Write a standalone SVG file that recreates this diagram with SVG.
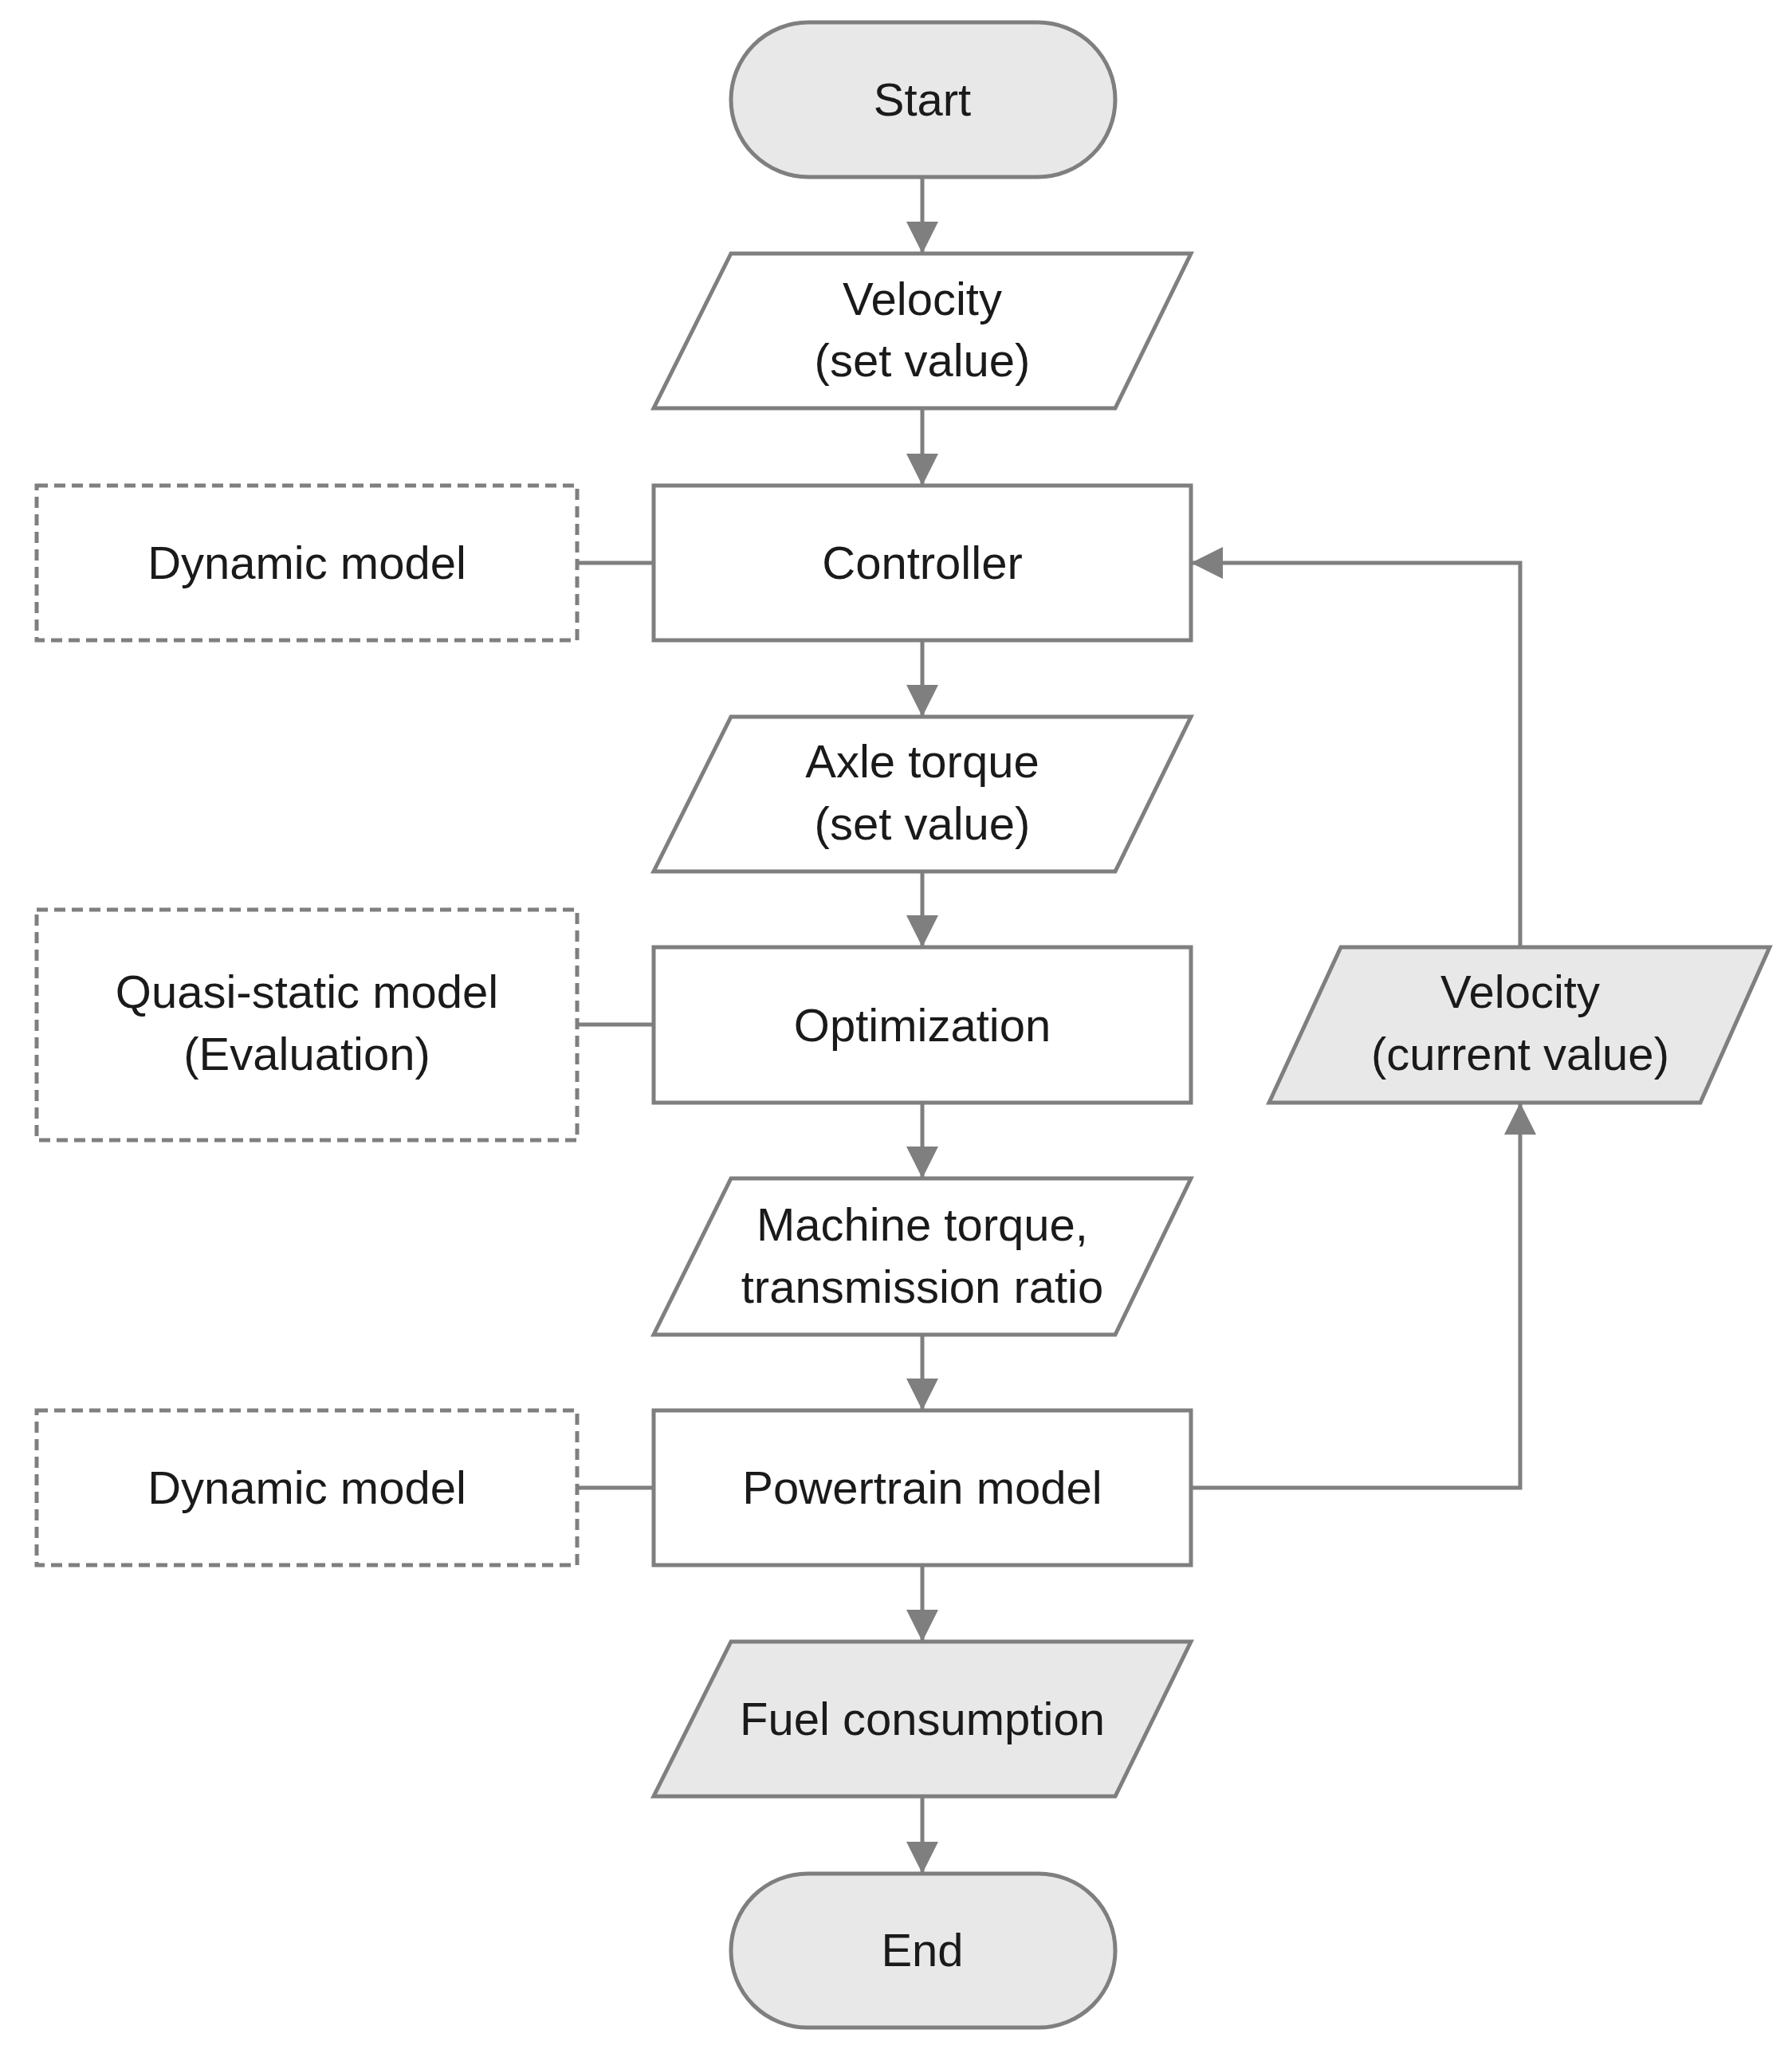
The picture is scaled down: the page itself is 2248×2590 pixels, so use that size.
<svg xmlns="http://www.w3.org/2000/svg" width="2248" height="2590" viewBox="0 0 2248 2590">
<style>
.s{stroke:#7f7f7f;stroke-width:5;fill:#fff}
.g{fill:#e8e8e8}
.d{stroke:#7f7f7f;stroke-width:5;fill:#fff;stroke-dasharray:14 8}
.c{stroke:#7f7f7f;stroke-width:5;fill:none}
text{font-family:"Liberation Sans",Arial,sans-serif;font-size:58px;fill:#1a1a1a;text-anchor:middle}
</style>
<defs><marker id="a" markerWidth="10" markerHeight="10" refX="9" refY="5" orient="auto" markerUnits="userSpaceOnUse" viewBox="0 0 10 10"><path d="M0,0L10,5L0,10z" fill="#7f7f7f"/></marker>
<marker id="ar" viewBox="0 0 10 10" refX="10" refY="5" markerWidth="40" markerHeight="40" markerUnits="userSpaceOnUse" orient="auto"><path d="M0,0L10,5L0,10z" fill="#7f7f7f"/></marker></defs>
<rect width="2248" height="2590" fill="#fff"/>
<g id="connectors">
<path class="c" d="M1157 222V318" marker-end="url(#ar)"/>
<path class="c" d="M1157 512V609" marker-end="url(#ar)"/>
<path class="c" d="M1157 803V899" marker-end="url(#ar)"/>
<path class="c" d="M1157 1093V1188" marker-end="url(#ar)"/>
<path class="c" d="M1157 1383V1478" marker-end="url(#ar)"/>
<path class="c" d="M1157 1674V1769" marker-end="url(#ar)"/>
<path class="c" d="M1157 1963V2059" marker-end="url(#ar)"/>
<path class="c" d="M1157 2253V2350" marker-end="url(#ar)"/>
<path class="c" d="M1494 1866H1907V1383" marker-end="url(#ar)"/>
<path class="c" d="M1907 1188V706H1494" marker-end="url(#ar)"/>
<path class="c" d="M724 706H820M724 1285H820M724 1866H820"/>
</g>
<g id="start"><rect class="s g" x="917" y="28" width="482" height="194" rx="97"/><text x="1157" y="145">Start</text></g>
<g id="vset"><polygon class="s" points="917,318 1494,318 1399,512 820,512"/><text x="1157" y="395">Velocity</text><text x="1157" y="472">(set value)</text></g>
<g id="controller"><rect class="s" x="820" y="609" width="674" height="194"/><text x="1157" y="726">Controller</text></g>
<g id="dyn1"><rect class="d" x="46" y="609" width="678" height="194"/><text x="385" y="726">Dynamic model</text></g>
<g id="axle"><polygon class="s" points="917,899 1494,899 1399,1093 820,1093"/><text x="1157" y="975">Axle torque</text><text x="1157" y="1053">(set value)</text></g>
<g id="opt"><rect class="s" x="820" y="1188" width="674" height="195"/><text x="1157" y="1306">Optimization</text></g>
<g id="quasi"><rect class="d" x="46" y="1141" width="678" height="289"/><text x="385" y="1264">Quasi-static model</text><text x="385" y="1342">(Evaluation)</text></g>
<g id="machine"><polygon class="s" points="917,1478 1494,1478 1399,1674 820,1674"/><text x="1157" y="1556">Machine torque,</text><text x="1157" y="1634">transmission ratio</text></g>
<g id="power"><rect class="s" x="820" y="1769" width="674" height="194"/><text x="1157" y="1886">Powertrain model</text></g>
<g id="dyn2"><rect class="d" x="46" y="1769" width="678" height="194"/><text x="385" y="1886">Dynamic model</text></g>
<g id="vcur"><polygon class="s g" points="1682,1188 2220,1188 2133,1383 1592,1383" /><text x="1907" y="1264">Velocity</text><text x="1907" y="1342">(current value)</text></g>
<g id="fuel"><polygon class="s g" points="917,2059 1494,2059 1399,2253 820,2253"/><text x="1157" y="2176">Fuel consumption</text></g>
<g id="end"><rect class="s g" x="917" y="2350" width="482" height="193" rx="96"/><text x="1157" y="2466">End</text></g>
</svg>
